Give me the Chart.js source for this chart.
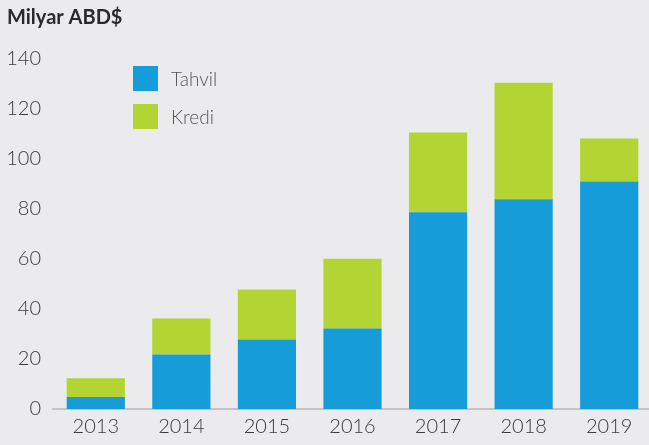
<!DOCTYPE html>
<html>
<head>
<meta charset="utf-8">
<script src="https://cdn.jsdelivr.net/npm/chart.js@4"></script>
<style>
  html, body { margin: 0; padding: 0; background: #ebebed; overflow: hidden; }
  #wrap { width: 652px; height: 445px; }
</style>
</head>
<body>
<div id="wrap"><canvas id="chart" width="652" height="445"></canvas></div>
<script>
const years = ['2013', '2014', '2015', '2016', '2017', '2018', '2019'];
const tahvil = [4.8, 21.8, 27.8, 32.2, 78.6, 83.8, 90.9];
const kredi = [7.5, 14.3, 19.9, 27.8, 31.8, 46.5, 17.1];
const seriesNames = ['Tahvil', 'Kredi'];
const colors = ['#159cd9', '#b4d434'];

const FONT = 'Lato, "Open Sans", sans-serif';

// Legend drawn inside the plot area, top-left
const innerLegend = {
    id: 'innerLegend',
    afterDraw(chart) {
        const ctx = chart.ctx;
        const x = 133, y0 = 66, box = 25, gap = 38;
        ctx.save();
        ctx.font = '300 19px ' + FONT;
        ctx.textBaseline = 'middle';
        chart.data.datasets.forEach((ds, i) => {
            const y = y0 + i * gap;
            ctx.fillStyle = ds.backgroundColor;
            ctx.fillRect(x, y, box, box);
            ctx.fillStyle = '#555';
            ctx.fillText(ds.label, x + box + 13, y + box / 2 + 1);
        });
        ctx.restore();
    }
};

new Chart(document.getElementById('chart').getContext('2d'), {
    type: 'bar',
    data: {
        labels: years,
        datasets: [
            { label: seriesNames[0], data: tahvil, backgroundColor: colors[0] },
            { label: seriesNames[1], data: kredi, backgroundColor: colors[1] }
        ]
    },
    options: {
        responsive: false,
        animation: false,
        layout: { padding: { left: 7, right: 0, top: 6, bottom: 0 } },
        datasets: { bar: { categoryPercentage: 0.68, barPercentage: 1.0 } },
        scales: {
            x: {
                stacked: true,
                grid: { display: false, drawTicks: false },
                border: { display: true, color: '#c4c4c6', width: 2 },
                ticks: { color: '#3a3a3a', font: { family: FONT, size: 20, weight: 300 }, padding: 6 }
            },
            y: {
                stacked: true,
                min: 0, max: 140,
                grid: { display: false, drawTicks: false },
                border: { display: false },
                ticks: { stepSize: 20, color: '#3a3a3a', font: { family: FONT, size: 20, weight: 300 }, padding: 12 },
                afterFit(scale) { scale.width = 46; }
            }
        },
        plugins: {
            legend: { display: false },
            tooltip: { enabled: false },
            title: {
                display: true,
                text: 'Milyar ABD$',
                align: 'start',
                color: '#2a2a2a',
                font: { family: FONT, size: 20, weight: 'bold' },
                padding: { top: 0, bottom: 28.5 }
            }
        }
    },
    plugins: [innerLegend]
});
</script>
</body>
</html>
